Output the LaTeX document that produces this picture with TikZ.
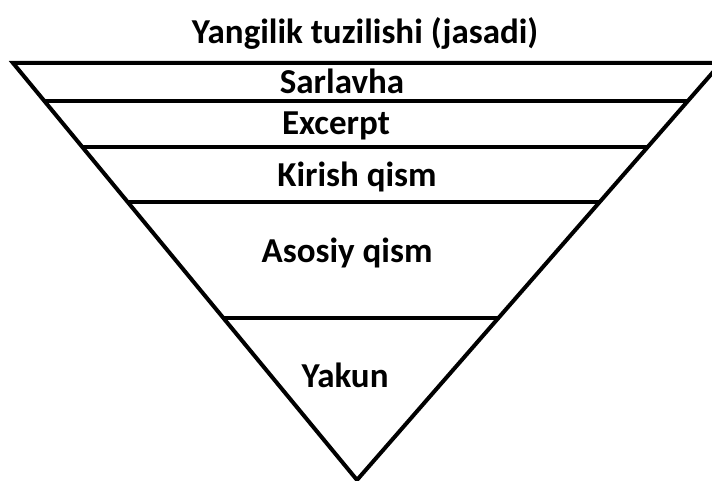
\documentclass[tikz,border=0pt]{standalone}
\usepackage{fontspec}
\setmainfont{Carlito}
\usetikzlibrary{calc}
\tikzset{
  edge/.style={line width=4pt, line join=miter},
  label/.style={anchor=base, inner sep=0pt, font=\bfseries\fontsize{35}{40}\selectfont},
}
\begin{document}
\begin{tikzpicture}[x=1pt,y=-1pt]
  \useasboundingbox (0,0) rectangle (712,481);
  \clip (0,0) rectangle (712,481);
  % corners of the inverted pyramid
  \coordinate (A) at (13,63);
  \coordinate (B) at (721,63);
  \coordinate (C) at (357,480);
  \draw[edge] (A) -- (B) -- (C) -- cycle;
  % band boundaries, as fractions of the way from the top to the apex
  \foreach \t [count=\i] in {0.0911,0.2014,0.3333,0.6115} {
    \coordinate (L\i) at ($(A)!\t!(C)$);
    \coordinate (R\i) at ($(B)!\t!(C)$);
    \draw[edge] (L\i) -- (R\i);
  }
  % labels
  \node[label] (title) at (365,44) {Yangilik tuzilishi (jasadi)};
  \node[label] (sarlavha) at (342,94) {Sarlavha};
  \node[label] (excerpt) at (336,135) {Excerpt};
  \node[label] (kirish) at (357,187) {Kirish qism};
  \node[label] (asosiy) at (347,262) {Asosiy qism};
  \node[label] (yakun) at (345,387) {Yakun};
\end{tikzpicture}
\end{document}
